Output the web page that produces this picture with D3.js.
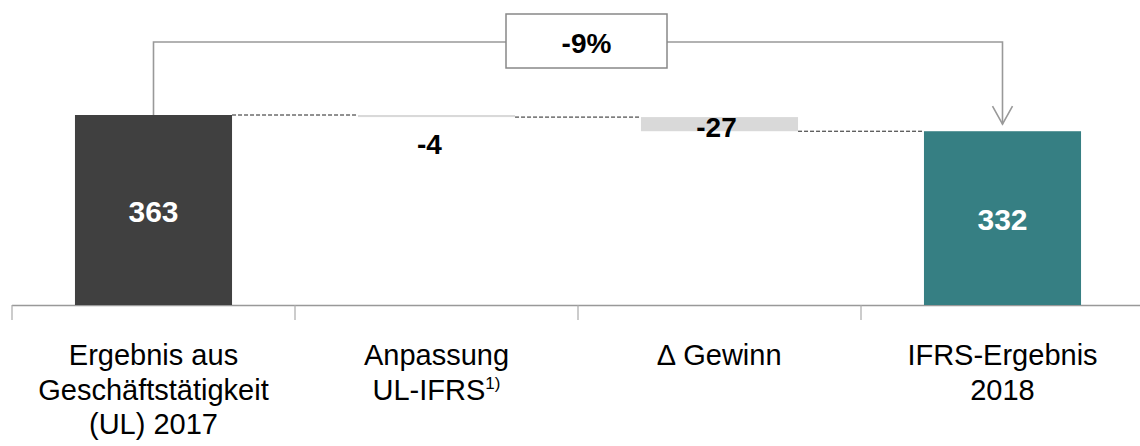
<!DOCTYPE html>
<html>
<head>
<meta charset="utf-8">
<script src="https://cdn.jsdelivr.net/npm/d3@7"></script>
<style>
body{margin:0;background:#fff;}
svg{font-family:"Liberation Sans",Arial,sans-serif;}
</style>
</head>
<body>
<svg id="chart" width="1140" height="446"></svg>
<script>
// waterfall data
var categories = ['c1','c2','c3','c4'];
var labelLines = [['Ergebnis aus','Geschäftstätigkeit','(UL) 2017'],['Anpassung','UL-IFRS'],['\u2206 Gewinn'],['IFRS-Ergebnis','2018']];
var values = [363, -4, -27, 332];
var kinds = ['total','delta','delta','total'];
var valueLabels = ['363','-4','-27','332'];
var changeLabel = '-9%';

var svg = d3.select('#chart');
var x = d3.scaleBand().domain(categories).range([12,1144]).paddingInner(0.445).paddingOuter(0.2225);
var y = d3.scaleLinear().domain([0,363]).range([305,115]);
var colors = {c1:'#404040',c2:'#d9d9d9',c3:'#d9d9d9',c4:'#367f83'};

// compute start/end
var run=0, bars=[];
values.forEach(function(v,i){
	var b={key:categories[i],i:i};
	if(kinds[i]=='total'){ b.y0=0; b.y1=v; run=v; }
	else { b.y0=run; b.y1=run+v; run=run+v; }
	bars.push(b);
});

// axis
svg.append('line').attr('x1',12).attr('x2',1140).attr('y1',y(0)+0.5).attr('y2',y(0)+0.5)
	.attr('stroke','#999').attr('stroke-width',1.5);
var step = x.step();
categories.forEach(function(c,i){
	var tx = x(c) - x.paddingInner()*step/2;
	svg.append('line').attr('x1',tx).attr('x2',tx).attr('y1',y(0)).attr('y2',y(0)+15)
		.attr('stroke','#aaa').attr('stroke-width',1.2);
});

// connectors
for(var i=0;i<bars.length-1;i++){
	var lvl = bars[i].y1;
	svg.append('line')
		.attr('x1',x(bars[i].key)+x.bandwidth()).attr('x2',x(bars[i+1].key))
		.attr('y1',y(lvl)).attr('y2',y(lvl))
		.attr('stroke','#222').attr('stroke-width',1).attr('stroke-dasharray','4,2');
}

svg.selectAll('.bar').data(bars).enter().append('rect')
	.attr('x',function(d){return x(d.key);})
	.attr('width',x.bandwidth())
	.attr('y',function(d){return y(Math.max(d.y0,d.y1));})
	.attr('height',function(d){return Math.abs(y(d.y0)-y(d.y1));})
	.attr('fill',function(d){return colors[d.key];});

// value labels
svg.selectAll('.val').data(bars).enter().append('text')
	.attr('x',function(d){
		var cx = x(d.key)+x.bandwidth()/2;
		if(kinds[d.i]=='delta') cx -= (d.i==1?7:3);
		return cx;
	})
	.attr('y',function(d){
		if(kinds[d.i]=='total') return (y(d.y0)+y(d.y1))/2+12;
		if(d.i==1) return y(d.y1)+37;
		return y(d.y1)+6;
	})
	.attr('text-anchor','middle')
	.attr('font-weight','bold')
	.attr('font-size',function(d){return kinds[d.i]=='total'?30:28;})
	.attr('fill',function(d){return kinds[d.i]=='total'?'#fff':'#000';})
	.text(function(d){return valueLabels[d.i];});

// category labels
categories.forEach(function(c,i){
	var t = svg.append('text').attr('text-anchor','middle').attr('font-size',29).attr('fill','#000');
	labelLines[i].forEach(function(line,j){
		t.append('tspan').attr('x',x(c)+x.bandwidth()/2).attr('y',365+j*34.5).text(line);
		if(i==1 && j==1){
			t.append('tspan').attr('font-size',17).attr('dy',-11).text('1)');
		}
	});
});

// change bracket
var xa = x('c1')+x.bandwidth()/2, xb = x('c4')+x.bandwidth()/2;
var yTop = 42, boxL = 506, boxR = 667;
var tip = y(332)-7;
svg.append('path')
	.attr('d','M'+xa+','+y(363)+'V'+yTop+'H'+boxL+'M'+boxR+','+yTop+'H'+xb+'V'+tip)
	.attr('fill','none').attr('stroke','#999').attr('stroke-width',1.6);
svg.append('path')
	.attr('d','M'+(xb-10)+','+(tip-18)+'L'+xb+','+tip+'L'+(xb+10)+','+(tip-18))
	.attr('fill','none').attr('stroke','#999').attr('stroke-width',1.6);
svg.append('rect').attr('x',boxL).attr('y',14).attr('width',boxR-boxL).attr('height',54)
	.attr('fill','#fff').attr('stroke','#888').attr('stroke-width',1.5);
svg.append('text').attr('x',(boxL+boxR)/2).attr('y',53).attr('text-anchor','middle')
	.attr('font-weight','bold').attr('font-size',28).text(changeLabel);
</script>
</body>
</html>
